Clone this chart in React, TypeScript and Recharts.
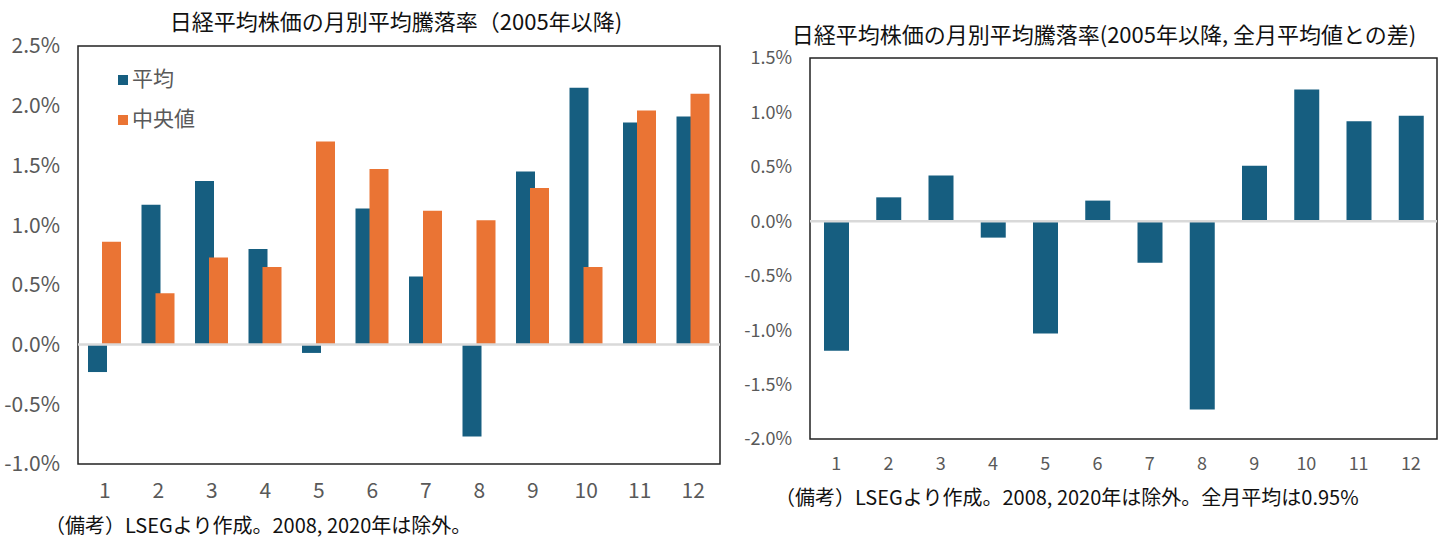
import React from 'react';
import { BarChart, Bar, XAxis, YAxis, ReferenceLine, ReferenceArea, Legend } from 'recharts';

const months = ['1', '2', '3', '4', '5', '6', '7', '8', '9', '10', '11', '12'];
const avgValues = [-0.23, 1.17, 1.37, 0.8, -0.07, 1.14, 0.57, -0.77, 1.45, 2.15, 1.86, 1.91];
const medianValues = [0.86, 0.43, 0.73, 0.65, 1.7, 1.47, 1.12, 1.04, 1.31, 0.65, 1.96, 2.1];
const diffValues = [-1.19, 0.22, 0.42, -0.15, -1.03, 0.19, -0.38, -1.73, 0.51, 1.21, 0.92, 0.97];
const leftTicks = [-1, -0.5, 0, 0.5, 1, 1.5, 2, 2.5];
const rightTicks = [-2, -1.5, -1, -0.5, 0, 0.5, 1, 1.5];

const leftTitle = '日経平均株価の月別平均騰落率（2005年以降)';
const rightTitle = '日経平均株価の月別平均騰落率(2005年以降, 全月平均値との差)';
const leftNote = '（備考）LSEGより作成。2008, 2020年は除外。';
const rightNote = '（備考）LSEGより作成。2008, 2020年は除外。全月平均は0.95%';

const BLUE = '#165E80';
const ORANGE = '#EA7434';
const GRAY = '#595959';
const FONT = '"Noto Sans CJK JP", "Noto Sans", sans-serif';

const leftData = months.map((m, i) => ({ month: m, avg: avgValues[i], median: medianValues[i] }));
const rightData = months.map((m, i) => ({ month: m, diff: diffValues[i] }));

const fmt = (v: number) => `${v.toFixed(1)}%`;

export default function App() {
  return (
    <div style={{ position: 'absolute', left: 0, top: 0, width: 1440, height: 538, background: '#fff', fontFamily: FONT }}>
      <div style={{ position: 'absolute', left: 396, top: 9, transform: 'translateX(-50%)', fontSize: 22, lineHeight: '22px', whiteSpace: 'nowrap', color: '#111' }}>
        {leftTitle}
      </div>
      <div style={{ position: 'absolute', left: 1104, top: 22, transform: 'translateX(-50%)', fontSize: 22, lineHeight: '22px', whiteSpace: 'nowrap', color: '#111' }}>
        {rightTitle}
      </div>
      <div style={{ position: 'absolute', left: 45, top: 515, fontSize: 20, lineHeight: '20px', whiteSpace: 'nowrap', color: '#111' }}>
        {leftNote}
      </div>
      <div style={{ position: 'absolute', left: 775, top: 487, fontSize: 20, lineHeight: '20px', whiteSpace: 'nowrap', color: '#111' }}>
        {rightNote}
      </div>

      <div style={{ position: 'absolute', left: 0, top: 0 }}>
        <BarChart width={722} height={538} data={leftData} margin={{ top: 46, right: 2, bottom: 44, left: 0 }} barGap={-5}>
          <XAxis dataKey="month" height={30} axisLine={false} tickLine={false} tickMargin={13}
            tick={{ fill: GRAY, fontSize: 21, fontFamily: FONT }} interval={0} />
          <YAxis width={78} domain={[-1, 2.5]} ticks={leftTicks} tickFormatter={fmt} axisLine={false} tickLine={false}
            tickMargin={12} tick={{ fill: GRAY, fontSize: 21, fontFamily: FONT }} interval={0} />
          <ReferenceArea y1={-1} y2={2.5} fill="none" fillOpacity={0} stroke="#222" strokeWidth={1.5} ifOverflow="visible" />
          <Bar dataKey="avg" name="平均" fill={BLUE} barSize={19} isAnimationActive={false} />
          <Bar dataKey="median" name="中央値" fill={ORANGE} barSize={19} isAnimationActive={false} />
          <ReferenceLine y={0} stroke="#D9D9D9" strokeWidth={2.5} />
          <Legend layout="vertical" align="center" verticalAlign="middle" iconType="square" iconSize={10}
            itemSorter="dataKey"
            wrapperStyle={{ top: 57, left: 118, width: 'auto', fontSize: 21, lineHeight: '40px', fontFamily: FONT }}
            formatter={(value: string) => <span style={{ color: GRAY }}>{value}</span>} />
        </BarChart>
      </div>

      <div style={{ position: 'absolute', left: 720, top: 0 }}>
        <BarChart width={720} height={538} data={rightData} margin={{ top: 58, right: 3, bottom: 69, left: 0 }}>
          <XAxis dataKey="month" height={30} axisLine={false} tickLine={false} tickMargin={12}
            tick={{ fill: GRAY, fontSize: 18, fontFamily: FONT }} interval={0} />
          <YAxis width={90} domain={[-2, 1.5]} ticks={rightTicks} tickFormatter={fmt} axisLine={false} tickLine={false}
            tickMargin={12} tick={{ fill: GRAY, fontSize: 18, fontFamily: FONT }} interval={0} />
          <ReferenceArea y1={-2} y2={1.5} fill="none" fillOpacity={0} stroke="#222" strokeWidth={1.5} ifOverflow="visible" />
          <Bar dataKey="diff" name="差" fill={BLUE} barSize={25} isAnimationActive={false} />
          <ReferenceLine y={0} stroke="#D9D9D9" strokeWidth={2.5} />
        </BarChart>
      </div>
    </div>
  );
}
